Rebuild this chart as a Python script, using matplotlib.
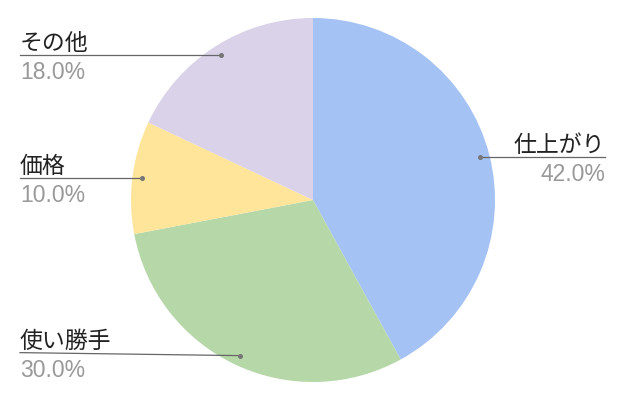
import matplotlib.pyplot as plt
import numpy as np

# Data
labels = ["仕上がり", "使い勝手", "価格", "その他"]
values = [42.0, 30.0, 10.0, 18.0]
colors = ["#a4c2f4", "#b6d7a8", "#ffe599", "#d9d2e9"]

W, H = 626, 403
fig = plt.figure(figsize=(W / 100, H / 100), dpi=100)
ax = fig.add_axes([0, 0, 1, 1])

cx, cy, R = 313, H - 200, 182
ax.pie(values, colors=colors, startangle=90, counterclock=False,
       center=(cx, cy), radius=R, frame=True,
       wedgeprops=dict(linewidth=0))
ax.set_xlim(0, W)
ax.set_ylim(0, H)
ax.set_aspect("equal")
ax.axis("off")

# label layout: text x and small line offset at the text end (px)
text_x = {"仕上がり": 605, "使い勝手": 20, "価格": 20, "その他": 20}
line_dy = {"仕上がり": 0, "使い勝手": 3, "価格": 0, "その他": 0}

fam_name = ["Noto Sans CJK JP", "DejaVu Sans"]
fam_pct = ["Liberation Sans", "DejaVu Sans"]
total = sum(values)
start = 90.0
for lab, v in zip(labels, values):
    sweep = 360.0 * v / total
    mid = np.deg2rad(start - sweep / 2)
    start -= sweep
    dx = cx + 0.945 * R * np.cos(mid)
    dy = cy + 0.945 * R * np.sin(mid)
    tx = text_x[lab]
    ly = dy + line_dy[lab]
    ax.plot([tx, dx], [ly, dy], color="#666666", lw=0.9, zorder=3)
    ax.plot([dx], [dy], "o", color="#777777", ms=2.6, zorder=4)
    ha = "right" if tx > cx else "left"
    ax.text(tx, ly + 5, lab, ha=ha, va="baseline", fontsize=16.5,
            color="#222222", family=fam_name)
    ax.text(tx, ly - 24, f"{v:.1f}%", ha=ha, va="baseline", fontsize=16.5,
            color="#999999", family=fam_pct)

fig.savefig("out.png", dpi=100)
